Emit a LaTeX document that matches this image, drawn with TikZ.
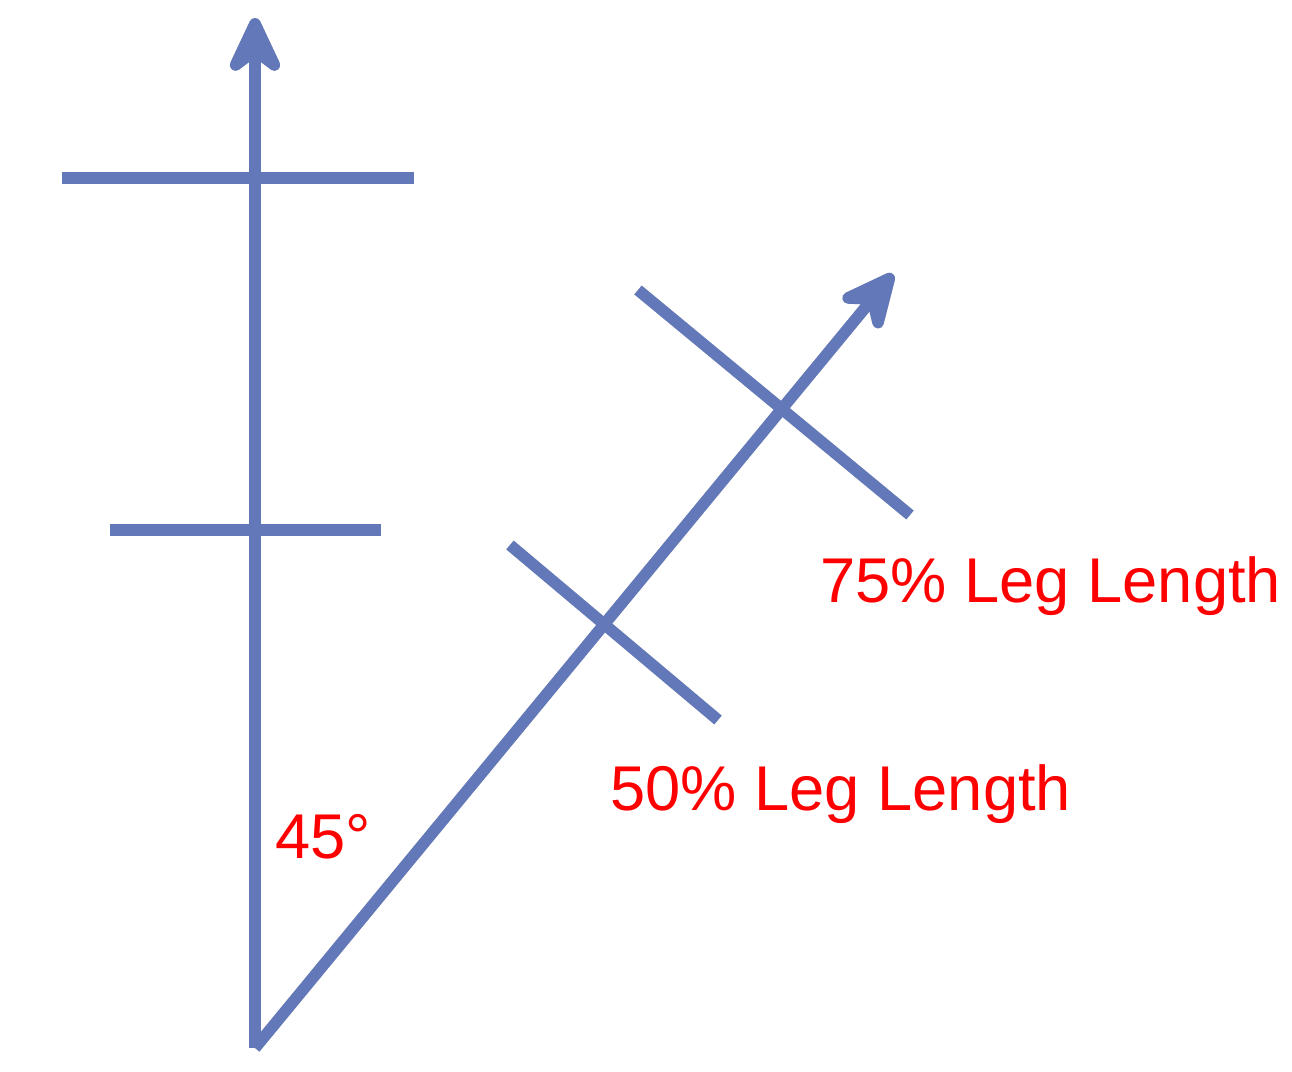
\documentclass[tikz,border=0pt]{standalone}
\usepackage{fontspec}
\setmainfont{Liberation Sans}
\usetikzlibrary{arrows.meta}
\definecolor{legblue}{RGB}{98,120,184}
\definecolor{legshadow}{RGB}{208,208,208}
\definecolor{legred}{RGB}{255,0,0}
\tikzset{
    leg/.style={line width=0.23cm, line join=miter},
    legtip/.style={-{Stealth[length=1.45cm, width=1.35cm, inset=0.5cm, round]}},
    leglabel/.style={text=legred, anchor=base west, inner sep=0pt,
            font=\fontsize{36}{43}\selectfont}
}
\begin{document}
\begin{tikzpicture}[x=0.02cm, y=-0.02cm]
    \useasboundingbox (0, 0) rectangle (1292, 1072);

    % Corner and arrow tips
    \coordinate (O) at (255, 1048);
    \coordinate (T) at (255, 18);
    \coordinate (D) at (893, 274);

    % Bars on the vertical leg
    \coordinate (a1) at (62, 178);
    \coordinate (a2) at (414, 178);
    \coordinate (b1) at (110, 530);
    \coordinate (b2) at (381, 530);

    % Bars on the slanted leg
    \coordinate (c1) at (510, 545);
    \coordinate (c2) at (718, 720);
    \coordinate (d1) at (638, 290);
    \coordinate (d2) at (910, 515);

    % Shadow first, then the blue lines
    \foreach \dx/\dy/\col in {2/5/legshadow, 0/0/legblue} {
            \begin{scope}[shift={(\dx, \dy)}, draw=\col, color=\col]
                \draw[leg, legtip] (O) -- (T);
                \draw[leg, legtip] (O) -- (D);
                \draw[leg] (a1) -- (a2);
                \draw[leg] (b1) -- (b2);
                \draw[leg] (c1) -- (c2);
                \draw[leg] (d1) -- (d2);
            \end{scope}
        }

    \node[leglabel] (ang) at (275, 858) {45°};
    \node[leglabel] (half) at (610, 810) {50\% Leg Length};
    \node[leglabel] (threeq) at (820, 602) {75\% Leg Length};
\end{tikzpicture}
\end{document}
